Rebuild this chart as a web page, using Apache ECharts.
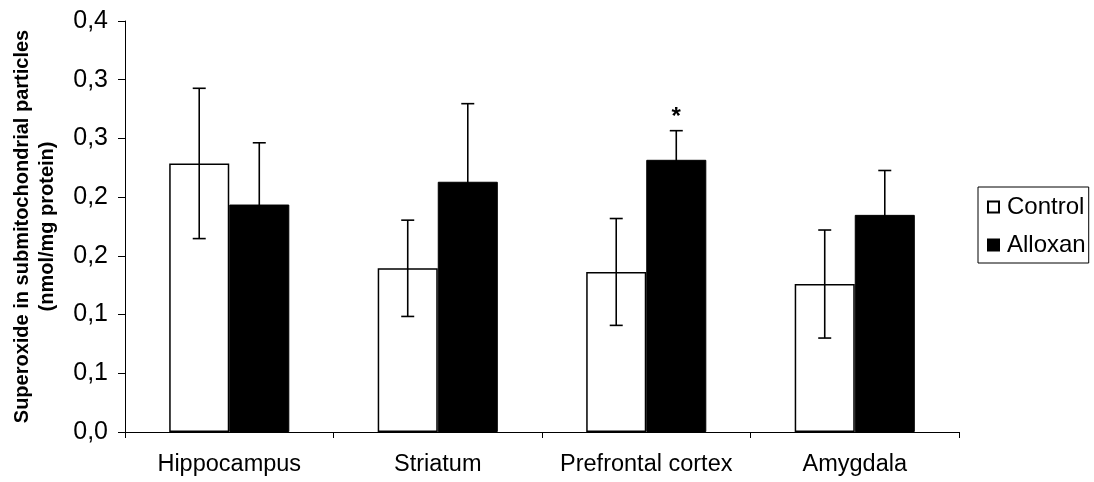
<!DOCTYPE html>
<html>
<head>
<meta charset="utf-8">
<script src="https://cdn.jsdelivr.net/npm/echarts@6/dist/echarts.min.js"></script>
<style>
html,body{margin:0;padding:0;background:#fff;}
#chart{width:1094px;height:482px;}
</style>
</head>
<body>
<div id="chart"></div>
<script>
var categories = ['Hippocampus', 'Striatum', 'Prefrontal cortex', 'Amygdala'];
var controlValues = [0.2287, 0.1394, 0.1363, 0.1260];
var controlErrors = [0.0640, 0.0410, 0.0455, 0.0460];
var alloxanValues = [0.1937, 0.2131, 0.2318, 0.1849];
var alloxanErrors = [0.0526, 0.0665, 0.0248, 0.0378];
var alloxanMarks = ['', '', '*', ''];
var yTickLabels = ['0,0', '0,1', '0,1', '0,2', '0,2', '0,3', '0,3', '0,4'];

var FONT = '"Liberation Sans", Arial, Helvetica, sans-serif';
var BAR_FRAC = 0.288;

var errData = [];
categories.forEach(function (c, i) {
  errData.push([i, controlValues[i], controlErrors[i], 0, '']);
  errData.push([i, alloxanValues[i], alloxanErrors[i], 1, alloxanMarks[i]]);
});

var chart = echarts.init(document.getElementById('chart'), null, {renderer: 'canvas'});
var option = {
  backgroundColor: '#fff',
  animation: false,
  textStyle: {fontFamily: FONT, color: '#000'},
  grid: {left: 125, right: 135, top: 21, bottom: 50, containLabel: false},
  legend: {
    data: ['Control', 'Alloxan'],
    orient: 'vertical',
    left: 978,
    top: 187,
    padding: [8, 3, 6, 9],
    itemWidth: 11,
    itemHeight: 11,
    itemGap: 14,
    borderColor: '#000',
    borderWidth: 1,
    selectedMode: false,
    icon: 'rect',
    textStyle: {fontFamily: FONT, fontSize: 24, color: '#000', padding: [0, 0, 0, 3]}
  },
  xAxis: {
    type: 'category',
    data: categories,
    boundaryGap: true,
    axisLine: {show: true, lineStyle: {color: '#000', width: 1}},
    axisTick: {show: true, length: 6, lineStyle: {color: '#000'}},
    axisLabel: {fontFamily: FONT, fontSize: 23.5, color: '#000', margin: 21, interval: 0},
    splitLine: {show: false}
  },
  yAxis: {
    type: 'value',
    min: 0,
    max: 0.35,
    interval: 0.05,
    name: 'Superoxide in submitochondrial particles\n(nmol/mg protein)',
    nameLocation: 'middle',
    nameRotate: 90,
    nameGap: 65,
    nameTextStyle: {fontFamily: FONT, fontSize: 20, fontWeight: 'bold', color: '#000', lineHeight: 25, align: 'center'},
    axisLine: {show: true, lineStyle: {color: '#000', width: 1}},
    axisTick: {show: true, length: 7, lineStyle: {color: '#000'}},
    axisLabel: {
      fontFamily: FONT, fontSize: 25, color: '#000', margin: 17,
      formatter: function (v) { return yTickLabels[Math.round(v / 0.05)]; }
    },
    splitLine: {show: false}
  },
  series: [
    {
      name: 'Control',
      type: 'bar',
      data: controlValues,
      barWidth: (BAR_FRAC * 100) + '%',
      barGap: '0%',
      itemStyle: {color: '#fff', borderColor: '#000', borderWidth: 1.5},
      z: 2
    },
    {
      name: 'Alloxan',
      type: 'bar',
      data: alloxanValues,
      barWidth: (BAR_FRAC * 100) + '%',
      barGap: '0%',
      itemStyle: {color: '#000', borderColor: '#000', borderWidth: 1},
      z: 2
    },
    {
      name: 'errors',
      type: 'custom',
      data: errData,
      z: 5,
      silent: true,
      encode: {x: 0, y: 1},
      renderItem: function (params, api) {
        var cat = api.value(0), val = api.value(1), err = api.value(2), s = api.value(3);
        var mark = errData[params.dataIndex][4];
        var band = api.size([1, 0])[0];
        var bw = band * BAR_FRAC;
        var base = api.coord([cat, val]);
        var x = base[0] + (s === 0 ? -bw / 2 : bw / 2);
        var yTop = api.coord([cat, val + err])[1];
        var yBot = api.coord([cat, val - err])[1];
        var cap = 6.5;
        var ls = {stroke: '#000', lineWidth: 1.6};
        var children = [
          {type: 'line', shape: {x1: x, y1: yTop, x2: x, y2: yBot}, style: ls},
          {type: 'line', shape: {x1: x - cap, y1: yTop, x2: x + cap, y2: yTop}, style: ls},
          {type: 'line', shape: {x1: x - cap, y1: yBot, x2: x + cap, y2: yBot}, style: ls}
        ];
        if (mark) {
          children.push({
            type: 'text',
            style: {
              text: mark, x: x, y: yTop - 1,
              fill: '#000', font: 'bold 24px ' + FONT,
              textAlign: 'center', textVerticalAlign: 'bottom'
            }
          });
        }
        return {type: 'group', children: children};
      }
    }
  ]
};
chart.setOption(option);
</script>
</body>
</html>
